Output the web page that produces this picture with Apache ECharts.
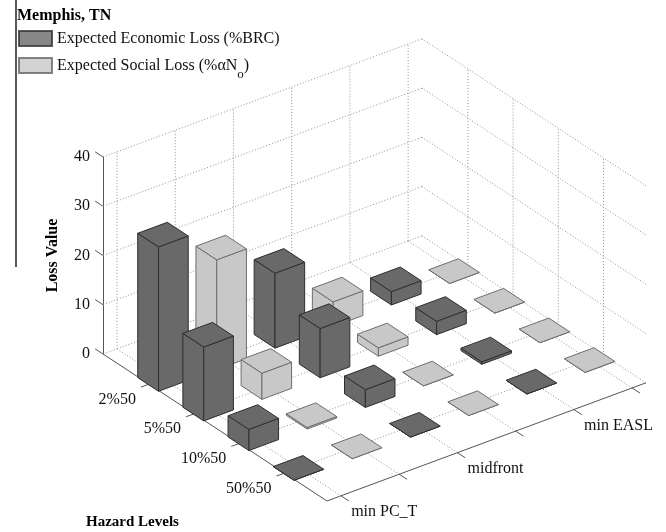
<!DOCTYPE html>
<html><head><meta charset="utf-8">
<script src="https://cdn.jsdelivr.net/npm/echarts@6/dist/echarts.min.js"></script>
<style>html,body{margin:0;padding:0;background:#fff}#c{width:666px;height:532px}</style>
</head><body><div id="c"></div>
<script>
// ---------------- data ----------------
const hazardLevels = ['2%50', '5%50', '10%50', '50%50'];
const designs = ['min PC_T', 'midfront', 'min EASL'];
const lossNames = ['Expected Economic Loss (%BRC)', 'Expected Social Loss (%αNo)'];
// rows: hazard levels, columns: designs
const economicLoss = [
  [29.3, 15.2, 2.7],
  [15.0, 10.0, 2.7],
  [4.3, 3.6, 0.5],
  [0, 0, 0]
];
const socialLoss = [
  [22.3, 5.0, 0],
  [5.3, 1.7, 0],
  [0.3, 0, 0],
  [0, 0, 0]
];
const zTicks = [0, 10, 20, 30, 40];

// ---------------- styling / projection ----------------
const FONT = '"Liberation Serif", "Times New Roman", serif';
const COLORS = ['#696969', '#c8c8c8'];
const EDGES = ['#2e2e2e', '#6e6e6e'];
const ZMAX = 40;
// oblique projection of (u, v, z) into the hidden 2D cartesian (x: 0..1, y: loss units)
const P = { ux: 0.5875, vx: 0.4125, uy: 24.0, vy: -29.85 };
function proj(u, v, z) { return [u * P.ux + v * P.vx, z + u * P.uy + v * P.vy]; }
const U0 = 0.044, DU = 0.1825;
const V0 = 0.205, DV = 0.2017;
const HW = 0.0465;
function colPos(d, t) { return U0 + DU * (2 * d + t); }
function rowPos(h) { return V0 + DV * h; }

const colList = [];
designs.forEach((d, di) => { colList.push(colPos(di, 0)); colList.push(colPos(di, 1)); });
const rowList = hazardLevels.map((h, hi) => rowPos(hi));

const bars = [];
const series = [economicLoss, socialLoss];
hazardLevels.forEach((h, hi) => {
  designs.forEach((d, di) => {
    series.forEach((arr, t) => {
      bars.push([colPos(di, t), rowPos(hi), arr[hi][di], t]);
    });
  });
});
bars.sort((a, b) => (b[0] * P.uy + b[1] * P.vy) - (a[0] * P.uy + a[1] * P.vy));

function renderFrame(params, api) {
  const ch = [];
  const c = (u, v, z) => api.coord(proj(u, v, z));
  const dotted = { stroke: '#929292', lineWidth: 1, lineDash: [1, 2] };
  const solid = { stroke: '#555', lineWidth: 1 };
  const line = (a, b, style) => ch.push({ type: 'line', shape: { x1: a[0], y1: a[1], x2: b[0], y2: b[1] }, style: style });
  // back-left wall
  colList.forEach(u => line(c(u, 0, 0), c(u, 0, ZMAX), dotted));
  zTicks.forEach(z => line(c(0, 0, z), c(1, 0, z), dotted));
  // back-right wall
  rowList.forEach(v => line(c(1, v, 0), c(1, v, ZMAX), dotted));
  zTicks.forEach(z => line(c(1, 0, z), c(1, 1, z), dotted));
  // floor
  colList.forEach(u => line(c(u, 0, 0), c(u, 1, 0), dotted));
  rowList.forEach(v => line(c(0, v, 0), c(1, v, 0), dotted));
  // axes
  line(c(0, 0, 0), c(0, 1, 0), solid);
  line(c(0, 1, 0), c(1, 1, 0), solid);
  rowList.forEach(v => line(c(0, v, 0), c(-0.025, v, 0), solid));
  colList.forEach(u => line(c(u, 1, 0), c(u, 1.035, 0), solid));
  zTicks.forEach(z => line(c(0, 0, z), c(0, -0.035, z), solid));
  // labels
  hazardLevels.forEach((h, hi) => {
    const p = c(0, rowPos(hi), 0);
    ch.push({ type: 'text', x: p[0] - 13, y: p[1] + 15.5,
      style: { text: h, fill: '#111', fontSize: 16, fontFamily: FONT, align: 'right', verticalAlign: 'middle' } });
  });
  designs.forEach((d, di) => {
    const p = c((colPos(di, 0) + colPos(di, 1)) / 2, 1, 0);
    ch.push({ type: 'text', x: p[0] - 19, y: p[1] + 27,
      style: { text: d, fill: '#111', fontSize: 16, fontFamily: FONT, align: 'left', verticalAlign: 'middle' } });
  });
  return { type: 'group', children: ch };
}

function renderBar(params, api) {
  const u = api.value(0), v = api.value(1), z = api.value(2), t = api.value(3);
  const c = (du, dv, zz) => api.coord(proj(u + du, v + dv, zz));
  const st = { fill: COLORS[t], stroke: EDGES[t], lineWidth: 1, lineJoin: 'round' };
  const faces = [
    [c(-HW, -HW, 0), c(-HW, HW, 0), c(-HW, HW, z), c(-HW, -HW, z)],
    [c(-HW, HW, 0), c(HW, HW, 0), c(HW, HW, z), c(-HW, HW, z)],
    [c(-HW, -HW, z), c(-HW, HW, z), c(HW, HW, z), c(HW, -HW, z)]
  ];
  return { type: 'group', children: faces.map(f => ({ type: 'polygon', shape: { points: f }, style: st })) };
}

const chart = echarts.init(document.getElementById('c'), null, { renderer: 'canvas' });
chart.setOption({
  animation: false,
  backgroundColor: '#fff',
  title: [
    { text: 'Memphis, TN', left: 17, top: 8, padding: 0,
      textStyle: { fontFamily: FONT, fontWeight: 'bold', fontSize: 16, color: '#000' } },
    { text: 'Hazard Levels', left: 86, top: 515, padding: 0,
      textStyle: { fontFamily: FONT, fontWeight: 'bold', fontSize: 15, color: '#000' } }
  ],
  legend: {
    orient: 'vertical', left: 18, top: 30, padding: 0, itemWidth: 33, itemHeight: 15, itemGap: 10,
    icon: 'rect', data: lossNames,
    formatter: function (name) {
      if (name === lossNames[1]) return '{t|Expected Social Loss (%αN}{s|o}{t|)}';
      return '{u|' + name + '}';
    },
    textStyle: {
      color: '#111', fontFamily: FONT, fontSize: 16,
      rich: {
        u: { fontFamily: FONT, fontSize: 16, color: '#111', lineHeight: 16 },
        t: { fontFamily: FONT, fontSize: 16, color: '#111', lineHeight: 32, verticalAlign: 'middle' },
        s: { fontFamily: FONT, fontSize: 13, color: '#111', lineHeight: 16, verticalAlign: 'bottom' }
      }
    }
  },
  graphic: [{ type: 'line', shape: { x1: 16, y1: 0, x2: 16, y2: 267 }, style: { stroke: '#000', lineWidth: 1.3 } }],
  grid: { left: 103, right: 20, top: 157, bottom: 178 },
  xAxis: { type: 'value', min: 0, max: 1, show: false },
  yAxis: {
    type: 'value', min: 0, max: ZMAX, interval: 10,
    name: 'Loss Value', nameLocation: 'middle', nameRotate: 90, nameGap: 42,
    nameTextStyle: { fontFamily: FONT, fontWeight: 'bold', fontSize: 16, color: '#000' },
    axisLine: { show: true, lineStyle: { color: '#555', width: 1 } },
    axisTick: { show: false },
    splitLine: { show: false },
    axisLabel: { margin: 13, fontFamily: FONT, fontSize: 16, color: '#111' }
  },
  series: [
    { type: 'scatter', name: lossNames[0], data: [], itemStyle: { color: COLORS[0], borderColor: '#333', borderWidth: 1 } },
    { type: 'scatter', name: lossNames[1], data: [], itemStyle: { color: COLORS[1], borderColor: '#666', borderWidth: 1 } },
    { type: 'custom', name: 'frame', z: 1, clip: false, silent: true, data: [[0, 0]], renderItem: renderFrame },
    { type: 'custom', name: 'bars', z: 2, clip: false, silent: true, data: bars, renderItem: renderBar }
  ]
});
</script></body></html>
